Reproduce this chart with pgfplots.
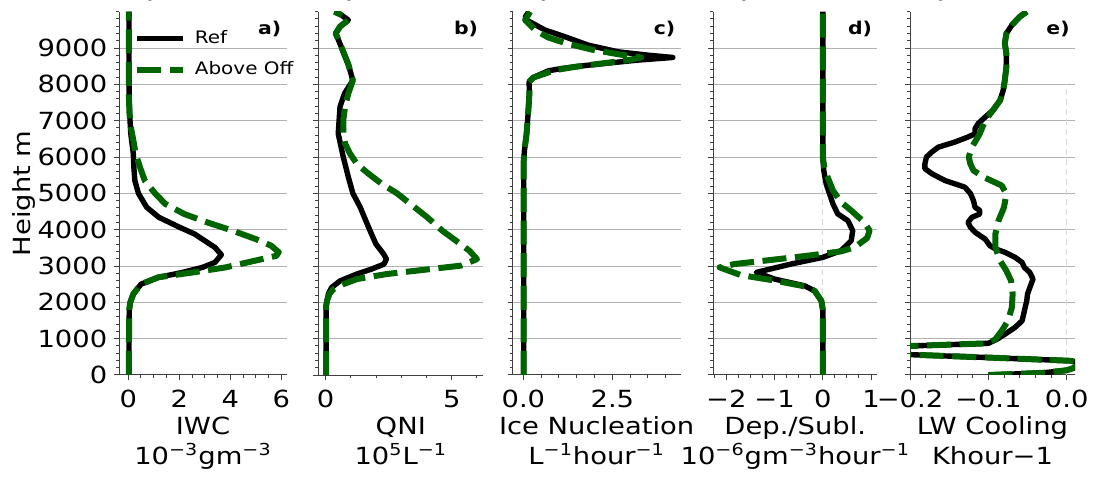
\documentclass[border=0pt]{standalone}
\usepackage{fontspec}
\setmainfont{DejaVu Sans}[FakeStretch=1.16]
\usepackage{pgfplots}
\pgfplotsset{compat=1.18}
\definecolor{dg}{HTML}{006400}
\newcommand{\sps}[1]{\textsuperscript{#1}}
\tikzset{plab/.style={anchor=north east, inner sep=0pt, font=\bfseries\fontsize{8.8}{10}\selectfont}}
\pgfplotsset{
 prof/.style={
   scale only axis, height=181.65pt, ymin=0, ymax=10000,
   axis x line*=bottom, axis y line*=left,
   axis line style={-, black!75, line width=0.5pt},
   ytick={0,1000,...,9000}, minor ytick={0,200,...,10000},
   yticklabels={},
   ymajorgrids, grid style={black!30, line width=0.5pt},
   tick align=outside, major tick length=2.5pt, minor tick length=1.5pt,
   tick style={black!75, line width=0.5pt},
   tick label style={font=\fontsize{11.8}{13}\selectfont},
   xticklabel style={yshift=-1.5pt},
   label style={font=\fontsize{11.8}{15}\selectfont},
   xlabel style={align=center}, xlabel shift=-2.5pt,
 },
 refl/.style={black, line width=2.7pt, line join=round},
 offl/.style={dg, line width=3pt, line join=round, dash pattern=on 12pt off 4.3pt},
 zl/.style={black!15, line width=0.6pt, dash pattern=on 3pt off 2pt, forget plot},
}
\begin{document}
\begin{tikzpicture}
% ---------------- a) IWC
\begin{axis}[prof, at={(59.65pt,51pt)}, anchor=south west, width=83.7pt,
  xmin=-0.35, xmax=6.21, xtick={0,2,4,6}, xticklabels={0,2,4,6},
  minor xtick={0.5,1,...,6},
  yticklabels={0,1000,2000,3000,4000,5000,6000,7000,8000,9000},
  ylabel={Height m}, ylabel shift=-6pt,
  xlabel={IWC\\10\sps{−3}gm\sps{−3}},
  legend style={at={(axis description cs:0.085,0.955)}, anchor=north west, draw=none, fill=none,
    font=\fontsize{8.6}{10}\selectfont, row sep=5.5pt, inner sep=0pt,
    nodes={inner sep=1pt}},
  legend cell align=left,
  legend image code/.code={\draw[#1] (0pt,0pt) -- (23pt,0pt);},
  ]
\addplot[refl] coordinates {(0.03,0)(0.03,1000)(0.04,1800)(0.08,2000)(0.2,2230)(0.5,2500)(1.2,2690)(2.1,2820)(2.9,2960)(3.4,3100)(3.65,3310)(3.4,3510)(2.6,3880)(2.0,4070)(1.2,4340)(0.72,4620)(0.4,5000)(0.26,5350)(0.22,5720)(0.2,6090)(0.1,6640)(0.07,7010)(0.04,7500)(0.03,8500)(0.03,10000)};
\addlegendentry{\hspace{3.5pt}Ref}
\addplot[offl] coordinates {(0.03,0)(0.03,1000)(0.04,1800)(0.08,2000)(0.2,2230)(0.5,2500)(1.18,2690)(2.5,2820)(3.8,2960)(5.24,3190)(5.8,3280)(5.9,3380)(5.6,3560)(5.0,3740)(4.1,3970)(3.1,4200)(2.2,4430)(1.45,4710)(1.05,5000)(0.65,5350)(0.46,5720)(0.29,6090)(0.2,6460)(0.1,6830)(0.05,7190)(0.03,7600)(0.03,10000)};
\addlegendentry{\hspace{3.5pt}Above Off}
\node[plab] at (rel axis cs:0.97,0.975) {a)};
\end{axis}
% ---------------- b) QNI
\begin{axis}[prof, at={(159.15pt,51pt)}, anchor=south west, width=82.5pt,
  xmin=-0.29, xmax=6.25, xtick={0,5}, xticklabels={0,5},
  minor xtick={1,2,3,4,6},
  xlabel={QNI\\10\sps{5}L\sps{−1}}]
\addplot[refl] coordinates {(0.02,0)(0.02,1900)(0.06,2050)(0.11,2230)(0.24,2410)(0.57,2590)(1.24,2780)(1.84,2920)(2.31,3050)(2.41,3190)(2.3,3330)(1.99,3610)(1.7,4070)(1.37,4620)(1.08,5000)(0.9,5450)(0.7,6000)(0.5,6640)(0.57,7380)(0.75,7750)(1.08,8110)(0.9,8550)(0.64,9000)(0.4,9400)(0.57,9590)(0.9,9770)(0.6,9920)(0.35,10000)};
\addplot[offl] coordinates {(0.02,0)(0.02,1900)(0.06,2050)(0.15,2230)(0.3,2360)(0.7,2500)(1.24,2640)(2.43,2780)(5.36,3010)(6.0,3190)(5.7,3420)(5.16,3700)(4.63,3970)(4.03,4340)(3.36,4710)(2.83,5000)(2.23,5260)(1.7,5540)(1.24,5810)(0.97,6090)(0.77,6370)(0.7,6640)(0.7,7010)(0.77,7380)(0.9,7750)(1.08,8110)(0.9,8550)(0.64,9000)(0.4,9400)(0.57,9590)(0.9,9770)(0.6,9920)(0.35,10000)};
\node[plab] at (rel axis cs:0.97,0.975) {b)};
\end{axis}
% ---------------- c) Ice nucleation
\begin{axis}[prof, at={(256.35pt,51pt)}, anchor=south west, width=84pt,
  xmin=-0.30, xmax=4.42, xtick={0,2.5}, xticklabels={0.0,2.5},
  minor xtick={0.5,1,1.5,2,3,3.5,4},
  xlabel={Ice Nucleation\\L\sps{−1}hour\sps{−1}}]
\addplot[refl] coordinates {(0.01,0)(0.01,5900)(0.03,6180)(0.09,6640)(0.14,7290)(0.17,7750)(0.16,8068)(0.28,8188)(0.7,8372)(1.07,8436)(1.82,8528)(3.2,8666)(4.2,8740)(3.5,8804)(2.66,8896)(1.82,9080)(1.17,9310)(0.61,9494)(0.09,9770)(0.05,9850)(0.15,10000)};
\addplot[offl] coordinates {(0.01,0)(0.01,5900)(0.03,6180)(0.09,6640)(0.14,7290)(0.17,7750)(0.16,8068)(0.28,8188)(0.89,8390)(1.45,8482)(2.94,8666)(3.31,8740)(2.66,8830)(1.91,8960)(1.21,9126)(0.7,9290)(0.33,9494)(0.05,9770)(0.19,10000)};
\node[plab] at (rel axis cs:0.97,0.975) {c)};
\end{axis}
% ---------------- d) Dep./Subl.
\begin{axis}[prof, at={(356.65pt,51pt)}, anchor=south west, width=82pt,
  xmin=-2.27, xmax=1.13, xtick={-2,-1,0,1}, xticklabels={−2,−1,0,1},
  minor xtick={-2.25,-1.75,-1.5,-1.25,-0.75,-0.5,-0.25,0.25,0.5,0.75},
  xlabel={Dep./Subl.\\10\sps{−6}gm\sps{−3}hour\sps{−1}}]
\addplot[zl] coordinates {(0,0)(0,8000)};
\addplot[refl] coordinates {(0,0)(0,1800)(-0.03,2042)(-0.17,2318)(-0.38,2456)(-1.0,2640)(-1.38,2824)(-0.66,3054)(0,3238)(0.38,3422)(0.59,3700)(0.62,3974)(0.52,4250)(0.31,4434)(0.21,4710)(0.14,4986)(0.07,5262)(0.02,5630)(0,6000)(0,10000)};
\addplot[offl] coordinates {(0,0)(0,1800)(-0.03,2042)(-0.17,2318)(-0.38,2440)(-1.0,2600)(-1.7,2750)(-2.14,2962)(-1.83,3054)(-1.21,3146)(-0.31,3284)(0.38,3404)(0.66,3514)(0.92,3772)(0.97,3974)(0.86,4204)(0.59,4526)(0.38,4756)(0.21,5078)(0.1,5446)(0.03,5722)(0,6000)(0,10000)};
\node[plab] at (rel axis cs:0.97,0.975) {d)};
\end{axis}
% ---------------- e) LW cooling
\begin{axis}[prof, at={(455pt,51pt)}, anchor=south west, width=82.5pt,
  xmin=-0.2, xmax=0.0106, xtick={-0.2,-0.1,0}, xticklabels={−0.2,−0.1,0.0},
  minor xtick={-0.18,-0.16,-0.14,-0.12,-0.08,-0.06,-0.04,-0.02},
  xlabel={LW Cooling\\Khour−1}]
\addplot[zl] coordinates {(0,0)(0,8000)};
\addplot[refl] coordinates {(-0.10,0)(-0.03,60)(0.0,130)(0.014,230)(0.014,330)(0.006,390)(-0.1,480)(-0.2,560)(-0.27,650)(-0.27,720)(-0.2,798)(-0.1,872)(-0.089,985)(-0.079,1120)(-0.066,1310)(-0.057,1490)(-0.055,1670)(-0.053,1860)(-0.051,2040)(-0.05,2230)(-0.047,2410)(-0.043,2640)(-0.047,2820)(-0.054,2960)(-0.057,3100)(-0.066,3240)(-0.079,3380)(-0.091,3470)(-0.098,3560)(-0.104,3740)(-0.117,3930)(-0.123,4070)(-0.126,4200)(-0.121,4340)(-0.111,4430)(-0.111,4530)(-0.117,4620)(-0.119,4800)(-0.123,5000)(-0.13,5170)(-0.155,5350)(-0.172,5540)(-0.181,5680)(-0.181,5810)(-0.179,6000)(-0.172,6140)(-0.164,6270)(-0.143,6410)(-0.126,6550)(-0.117,6640)(-0.117,6780)(-0.113,6920)(-0.104,7100)(-0.094,7290)(-0.085,7560)(-0.081,7840)(-0.079,8110)(-0.077,8480)(-0.077,8850)(-0.079,9130)(-0.077,9400)(-0.07,9630)(-0.06,9860)(-0.051,10000)};
\addplot[offl] coordinates {(-0.10,0)(-0.03,60)(0.0,130)(0.014,230)(0.014,330)(0.006,390)(-0.1,480)(-0.2,560)(-0.27,650)(-0.27,720)(-0.2,798)(-0.1,872)(-0.091,985)(-0.083,1214)(-0.075,1490)(-0.07,1858)(-0.069,2226)(-0.071,2594)(-0.077,2870)(-0.085,3146)(-0.091,3514)(-0.091,3882)(-0.087,4250)(-0.08,4618)(-0.077,4986)(-0.083,5216)(-0.106,5446)(-0.119,5630)(-0.123,5814)(-0.125,6000)(-0.121,6270)(-0.111,6640)(-0.104,7010)(-0.094,7290)(-0.085,7560)(-0.081,7840)(-0.079,8110)(-0.077,8480)(-0.077,8850)(-0.079,9130)(-0.077,9400)(-0.07,9630)(-0.06,9860)(-0.051,10000)};
\node[plab] at (rel axis cs:0.97,0.975) {e)};
\end{axis}
\pgfresetboundingbox
\path[use as bounding box] (0,0) rectangle (547pt,238.5pt);
\end{tikzpicture}
\end{document}
